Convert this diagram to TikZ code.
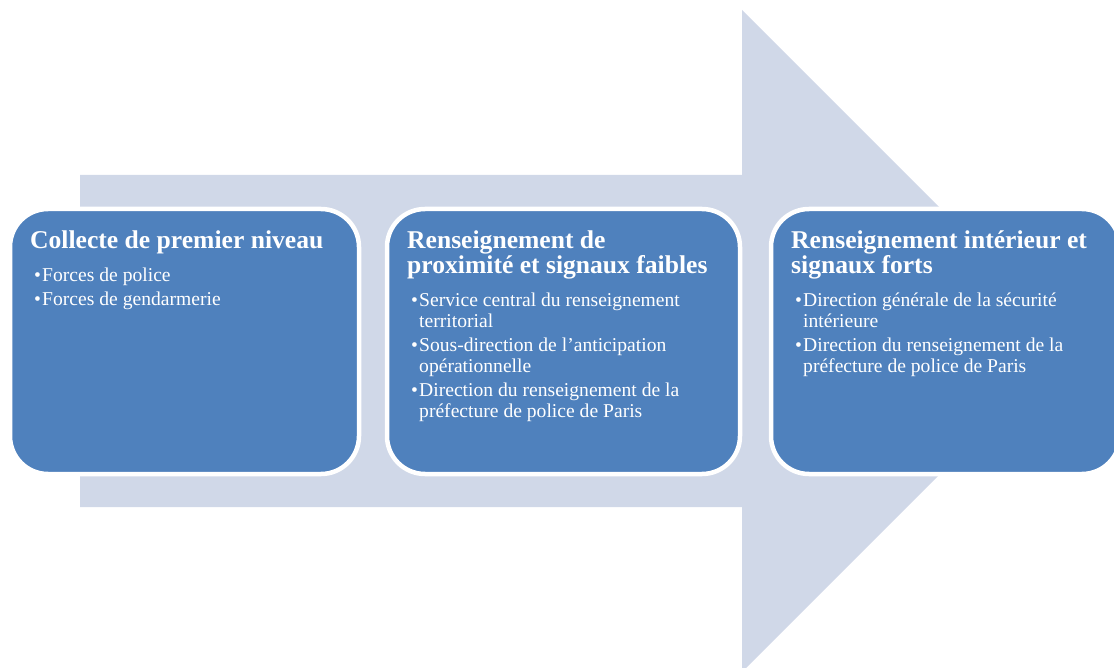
\documentclass[tikz,border=0pt]{standalone}
\usepackage{fontspec}
\setmainfont{Liberation Serif}
\usetikzlibrary{positioning}
\definecolor{bleuEtape}{RGB}{79,129,189}
\definecolor{bleuFleche}{RGB}{208,216,232}
\newcommand{\puce}{\hspace*{4pt}\makebox[8pt][l]{\textbullet}}
\newcommand{\suite}{\hspace*{12pt}}
\tikzset{
  etape/.style={draw=white, line width=4.5pt, fill=bleuEtape, rounded corners=38pt,
    anchor=north west, minimum height=265pt, inner sep=0pt, outer sep=0pt},
  titre/.style={anchor=north west, inner sep=0pt, align=left, text=white,
    font=\fontsize{25.6}{25}\selectfont\bfseries},
  liste/.style={inner sep=0pt, align=left, text=white,
    font=\fontsize{19.6}{21}\selectfont},
}
\begin{document}
\begin{tikzpicture}[x=1pt,y=-1pt]
  \useasboundingbox (0,0) rectangle (1114,668);
  % fleche de fond
  \fill[bleuFleche] (80,175) -- (742,175) -- (742,10) -- (1073,341)
    -- (742,672) -- (742,507) -- (80,507) -- cycle;
  % les trois etapes
  \node[etape, minimum width=349pt] (collecte) at (10,209) {};
  \node[etape, minimum width=353pt] (proximite) at (387,209) {};
  \node[etape, minimum width=349pt] (interieur) at (771,209) {};
  % titres
  \node[titre] (collecteTitre) at ([shift={(20,22)}]collecte.north west)
    {Collecte de premier niveau};
  \node[titre] (proximiteTitre) at ([shift={(20,22)}]proximite.north west)
    {Renseignement de\\proximité et signaux faibles};
  \node[titre] (interieurTitre) at ([shift={(20,22)}]interieur.north west)
    {Renseignement intérieur et\\signaux forts};
  % listes
  \node[liste, below right=13pt and 0pt of collecteTitre.south west] (collecteListe)
    {\puce Forces de police\\[3pt]
     \puce Forces de gendarmerie};
  \node[liste, below right=13pt and 0pt of proximiteTitre.south west] (proximiteListe)
    {\puce Service central du renseignement\\
     \suite territorial\\[3pt]
     \puce Sous-direction de l’anticipation\\
     \suite opérationnelle\\[3pt]
     \puce Direction du renseignement de la\\
     \suite préfecture de police de Paris};
  \node[liste, below right=13pt and 0pt of interieurTitre.south west] (interieurListe)
    {\puce Direction générale de la sécurité\\
     \suite intérieure\\[3pt]
     \puce Direction du renseignement de la\\
     \suite préfecture de police de Paris};
\end{tikzpicture}
\end{document}
